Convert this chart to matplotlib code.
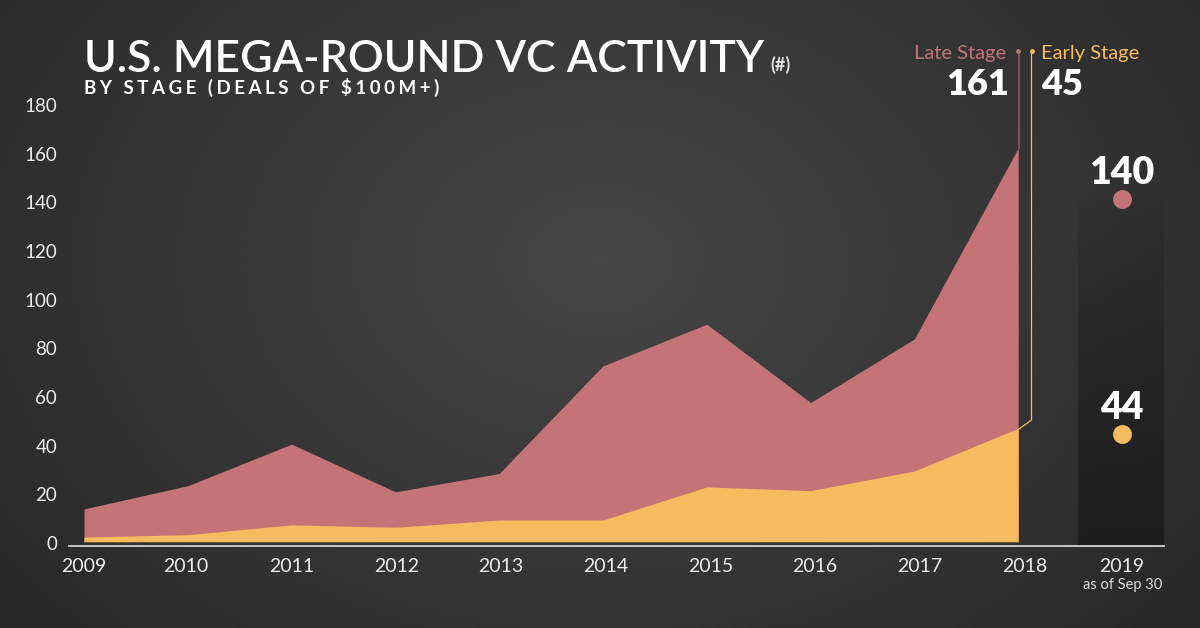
import numpy as np
import matplotlib
matplotlib.use("Agg")
import matplotlib.pyplot as plt
from matplotlib.lines import Line2D
from matplotlib.transforms import ScaledTranslation

years = [2009, 2010, 2011, 2012, 2013, 2014, 2015, 2016, 2017, 2018]
late_stage = [13.5, 23, 40, 20.5, 28, 72, 89, 57, 83, 161]
early_stage = [2, 3, 7, 6, 9, 9, 22.5, 21, 29, 46.5]
year_2019 = 2019
late_2019 = 140
early_2019 = 44
tick_years = years + [year_2019]
tick_counts = [0, 20, 40, 60, 80, 100, 120, 140, 160, 180]

LATE = "#c47376"
EARLY = "#f6bb5f"
W, H = 1200, 628
FONT = "Lato"

plt.rcParams["font.family"] = [FONT, "DejaVu Sans"]


def px(x, y):
    # pixel position in the reference -> figure fraction
    return x / W, 1 - y / H


fig = plt.figure(figsize=(12, 6.28), dpi=100)

# radial grey backdrop, with a fixed dither so it doesn't show rings
bg = fig.add_axes([0, 0, 1, 1], zorder=0)
yy, xx = np.mgrid[0:H, 0:W]
r = np.sqrt(((xx - 600) / 760) ** 2 + ((yy - 260) / 560) ** 2)
dither = (((xx * 7 + yy * 13) % 16) / 16 - 0.5) * 2 / 255
shade = np.clip(0.275 - 0.115 * r + dither, 0, 1)
bg.imshow(shade, cmap="gray", vmin=0, vmax=1, aspect="auto", interpolation="nearest")
bg.axis("off")

# px per unit and per year taken from the fills
ax = fig.add_axes([69 / W, 1 - 546 / H, (1164 - 69) / W, (546 - 90) / H], zorder=1)
ax.patch.set_alpha(0)
ppu = 2.447
ppy = 103.8
xlim = (2009 - 15 / ppy, 2009 + (1164 - 84) / ppy)
ylim = (-4 / ppu, (542 - 90) / ppu)

# dark column behind 2019
panel = np.zeros((256, 1, 4))
panel[:, 0, 0:3] = 0.11
panel[:, 0, 3] = np.linspace(0, 1, 256) ** 0.8 * 0.92
ax.imshow(panel, extent=[2009 + (1078 - 84) / ppy, xlim[1], ylim[0], (542 - 195) / ppu],
          origin="upper", aspect="auto", zorder=1)
ax.set_xlim(*xlim)
ax.set_ylim(*ylim)

ax.fill_between(years, late_stage, 0, color=LATE, lw=0, zorder=2)
ax.fill_between(years, early_stage, 0, color=EARLY, lw=0, zorder=3)
ax.plot([2009, 2018], [0, 0], color="#6b5a3c", lw=0.8, zorder=4)

ax.scatter([year_2019], [late_2019], s=185, color=LATE, lw=0, zorder=4)
ax.scatter([year_2019], [early_2019], s=185, color=EARLY, lw=0, zorder=4)
ax.text(year_2019, late_2019 + 10.8, str(late_2019), color="white", fontsize=27, fontweight="heavy",
        ha="center", va="center", zorder=5)
ax.text(year_2019, early_2019 + 10.8, str(early_2019), color="white", fontsize=27, fontweight="heavy",
        ha="center", va="center", zorder=5)

for side in ["top", "left", "right"]:
    ax.spines[side].set_visible(False)
ax.spines["bottom"].set_color("#d4d4d4")
ax.spines["bottom"].set_linewidth(1.3)

ax.set_yticks([])
ax.set_xticks(tick_years)
ax.set_xticklabels([str(y) for y in tick_years])
ax.tick_params(axis="x", length=0, pad=8.5, labelsize=14, labelcolor="#ececec")

# count labels sit on a slightly tighter scale than the fills
ax_lab = ax.twinx()
ax_lab.patch.set_alpha(0)
ax_lab.set_zorder(0.5)
ax_lab.yaxis.tick_left()
lab_ppu = 2.433
ax_lab.set_ylim(-3 / lab_ppu, (543 - 90) / lab_ppu)
ax_lab.set_yticks(tick_counts)
ax_lab.tick_params(axis="y", length=0, pad=8.5, labelsize=13.5, labelcolor="#ececec")
for side in ax_lab.spines:
    ax_lab.spines[side].set_visible(False)

# header
fig.text(*px(84, 72), "U.S. MEGA-ROUND VC ACTIVITY", color="white", fontsize=32, fontweight="semibold",
         ha="left", va="baseline")
fig.text(*px(770, 71), "(#)", color="#e4e4e4", fontsize=13, fontweight="bold",
         ha="left", va="baseline")
fig.text(*px(84, 94), "\u2009\u200a".join("BY STAGE (DEALS OF $100M+)"), color="white", fontsize=13.5, fontweight="bold",
         ha="left", va="baseline")

fig.text(*px(1006, 59), "Late Stage", color=LATE, fontsize=14.5, ha="right", va="baseline")
fig.text(*px(1041, 59), "Early Stage", color=EARLY, fontsize=14.5, ha="left", va="baseline")
fig.text(*px(1009, 95), "161", color="white", fontsize=26, fontweight="heavy", ha="right", va="baseline")
fig.text(*px(1041, 95), "45", color="white", fontsize=26, fontweight="heavy", ha="left", va="baseline")
fig.text(*px(1123, 589), "as of Sep 30", color="#dddddd", fontsize=10.5, ha="center", va="baseline")


# leader lines from the header down to the 2018 values
def leader(points, color, lw=1.0):
    xs, ys = zip(*[px(*p) for p in points])
    fig.add_artist(Line2D(xs, ys, color=color, lw=lw, zorder=6))


leader([(1018.5, 51), (1018.5, 148)], "#8a5a5e", 1.2)
leader([(1031.5, 51), (1031.5, 420), (1019, 429)], EARLY, 0.9)
for (x, c) in [(1018, LATE), (1032, EARLY)]:
    fig.add_artist(Line2D([x / W], [1 - 51 / H], marker="o", ms=3.5, color=c, lw=0, mew=0, zorder=7))

# x labels drift a little from the data in the reference
fig.canvas.draw()
nudges = [0, -2, 0, 1, 2, 3, 4, 4, 5, 7, 0]
for tick, dx in zip(ax.xaxis.get_major_ticks(), nudges):
    lab = tick.label1
    lab.set_transform(lab.get_transform() + ScaledTranslation(dx / 100, 0, fig.dpi_scale_trans))

fig.savefig("out.png", dpi=100)
